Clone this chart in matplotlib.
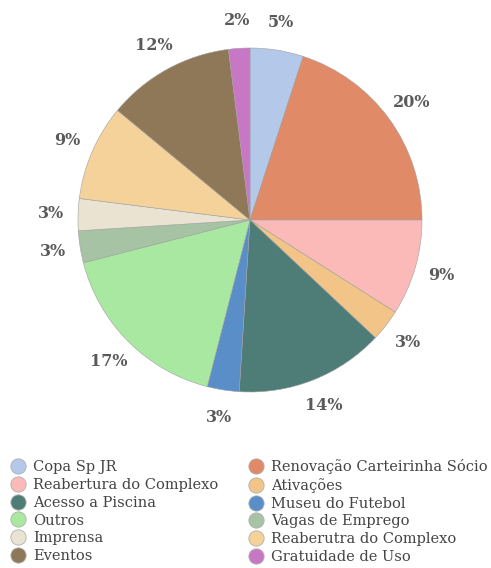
import matplotlib
matplotlib.use('Agg')
import matplotlib.pyplot as plt
from matplotlib.lines import Line2D

# share of requests per subject, clockwise from 12 o'clock
categories = ['Copa Sp JR', 'Renovação Carteirinha Sócio', 'Reabertura do Complexo',
              'Ativações', 'Acesso a Piscina', 'Museu do Futebol', 'Outros',
              'Vagas de Emprego', 'Imprensa', 'Reaberutra do Complexo', 'Eventos',
              'Gratuidade de Uso']
shares = [5, 20, 9, 3, 14, 3, 17, 3, 3, 9, 12, 2]
colors = ['#b4c8ea', '#e08a68', '#fbbab8', '#f3c487', '#4e7d78', '#5a8ec8',
          '#a8e8a0', '#a6c4a4', '#ebe3d2', '#f5d29a', '#8e7858', '#c877c4']

W, H = 491, 568
fig = plt.figure(figsize=(W / 100, H / 100), dpi=100, facecolor='white')

# pie: centre (250, 220) px, radius 172 px
cx, cy, r = 250, 220, 172
ax = fig.add_axes([(cx - r) / W, (H - cy - r) / H, 2 * r / W, 2 * r / H])
wedges, _, pcts = ax.pie(shares, colors=colors, startangle=90, counterclock=False,
                         autopct='%d%%', pctdistance=1.16,
                         wedgeprops=dict(edgecolor='#a0a0a0', linewidth=0.4))
for t in pcts:
    t.set_fontfamily('DejaVu Serif')
    t.set_fontsize(11.5)
    t.set_fontweight('bold')
    t.set_color('#5a5a5a')
ax.set_xlim(-1, 1)
ax.set_ylim(-1, 1)
ax.set_aspect('equal')
ax.axis('off')

# legend reads row by row, two columns
order = [0, 2, 4, 6, 8, 10, 1, 3, 5, 7, 9, 11]
handles = [Line2D([], [], ls='none', marker='o', markersize=11,
                  markerfacecolor=colors[i], markeredgecolor='#b0b0b0',
                  markeredgewidth=0.6) for i in order]
labels = [categories[i] for i in order]
leg = fig.legend(handles, labels, ncol=2, loc='upper left',
                 bbox_to_anchor=(-1 / W, 1 - 449 / H), frameon=False,
                 prop={'family': 'DejaVu Serif', 'size': 10.5},
                 handletextpad=0.45, columnspacing=1.95, labelspacing=0.26,
                 handlelength=1.2, borderpad=0.2)
for t in leg.get_texts():
    t.set_color('#444444')

fig.savefig('out.png', dpi=100, facecolor='white')
